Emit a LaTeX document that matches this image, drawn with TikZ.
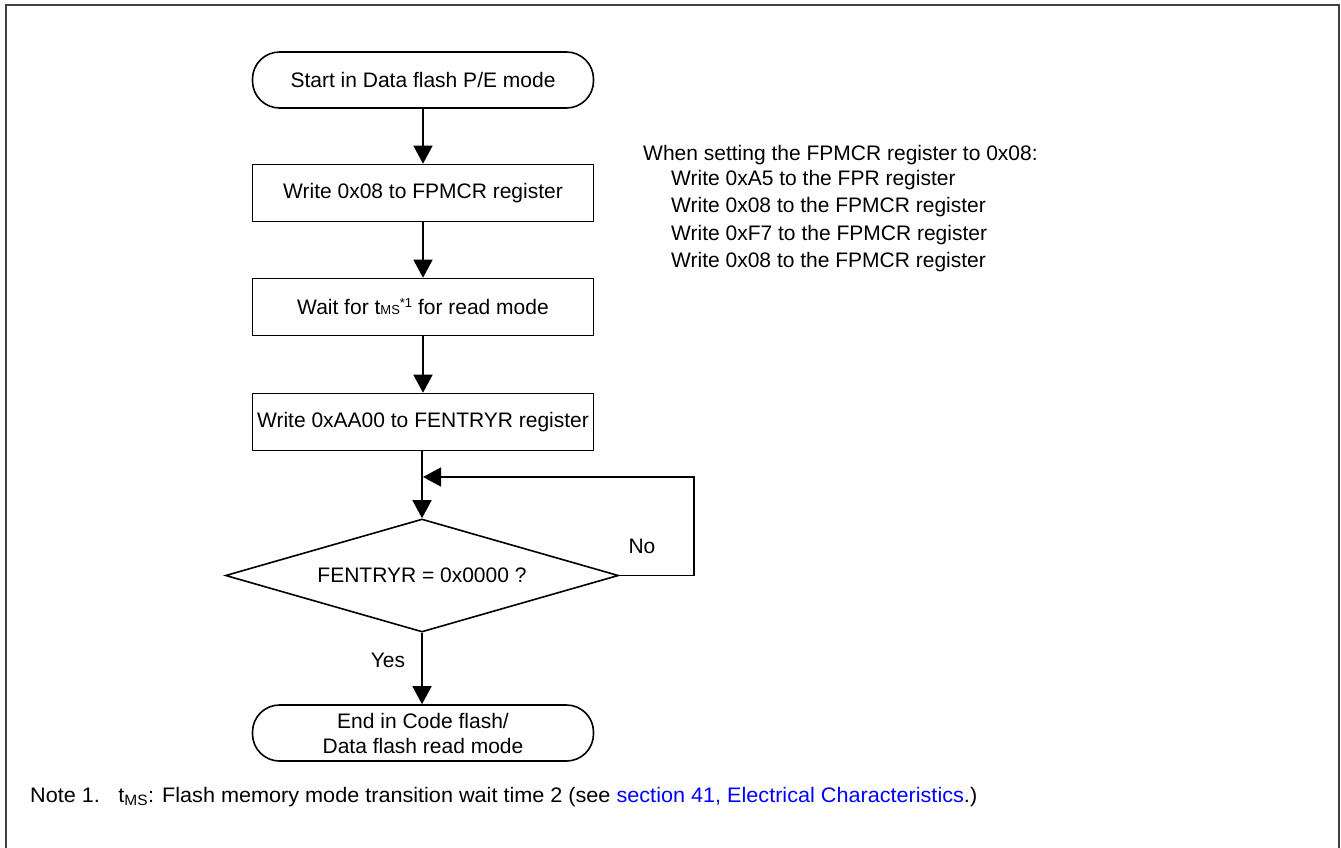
\documentclass[tikz,border=0pt]{standalone}
\usepackage{fontspec}
\setmainfont{Liberation Sans}
\usetikzlibrary{arrows.meta,shapes.geometric}
\begin{document}
\begin{tikzpicture}[x=1pt,y=-1pt,
  every node/.style={font=\fontsize{21}{25}\selectfont},
  term/.style={draw,line width=1.6pt,rounded corners=27pt,minimum width=341pt,minimum height=56pt,inner sep=0pt,align=center},
  proc/.style={draw,line width=1.6pt,minimum width=341pt,minimum height=57pt,inner sep=0pt,align=center},
  decis/.style={draw,line width=1.6pt,diamond,aspect=3.48,minimum width=393pt,minimum height=113pt,inner sep=0pt},
  arr/.style={line width=1.6pt,-{Triangle[length=18pt,width=19pt]}},
  sidetext/.style={anchor=west,inner sep=0pt}
]
\useasboundingbox (0,0) rectangle (1341,847);
\draw[line width=2pt,black!75] (6,870) -- (6,5) -- (1339,5) -- (1339,870);

\node[term] (start) at (423,80) {Start in Data flash P/E mode};
\node[proc] (b1) at (423,193) {Write 0x08 to FPMCR register};
\node[proc] (b2) at (423,307) {Wait for t{\fontsize{13}{13}\selectfont MS}\raisebox{7pt}{\fontsize{13}{13}\selectfont *1} for read mode};
\node[proc] (b3) at (423,422) {Write 0xAA00 to FENTRYR register};
\node[decis] (dec) at (422,575.5) {FENTRYR = 0x0000 ?};
\node[term] (end) at (423,733) {End in Code flash/\\Data flash read mode};

\coordinate (lp) at (423,477);
\coordinate (cr) at (694,477);

\draw[arr] (start) -- (b1);
\draw[arr] (b1) -- (b2);
\draw[arr] (b2) -- (b3);
\draw[arr] (b3.south -| dec.north) -- (dec.north);
\draw[arr] (dec.east) -| (cr) -- (lp);
\draw[arr] (dec.south) -- (end.north -| dec.south);

\node (no) at (642,546) {No};
\node (yes) at (388,660) {Yes};

\node[sidetext] (s0) at (643,155) {When setting the FPMCR register to 0x08:};
\node[sidetext] (s1) at (671,180) {Write 0xA5 to the FPR register};
\node[sidetext] (s2) at (671,207) {Write 0x08 to the FPMCR register};
\node[sidetext] (s3) at (671,235) {Write 0xF7 to the FPMCR register};
\node[sidetext] (s4) at (671,262) {Write 0x08 to the FPMCR register};

\node[anchor=west,inner sep=0pt] (note) at (30,797) {\scalebox{1.03}[1]{Note 1.\hspace{18pt}t$_{\mbox{\fontsize{15}{15}\selectfont MS}}$: Flash memory mode transition wait time 2 (see {\color{blue}section 41, Electrical Characteristics}.)}};
\end{tikzpicture}
\end{document}
